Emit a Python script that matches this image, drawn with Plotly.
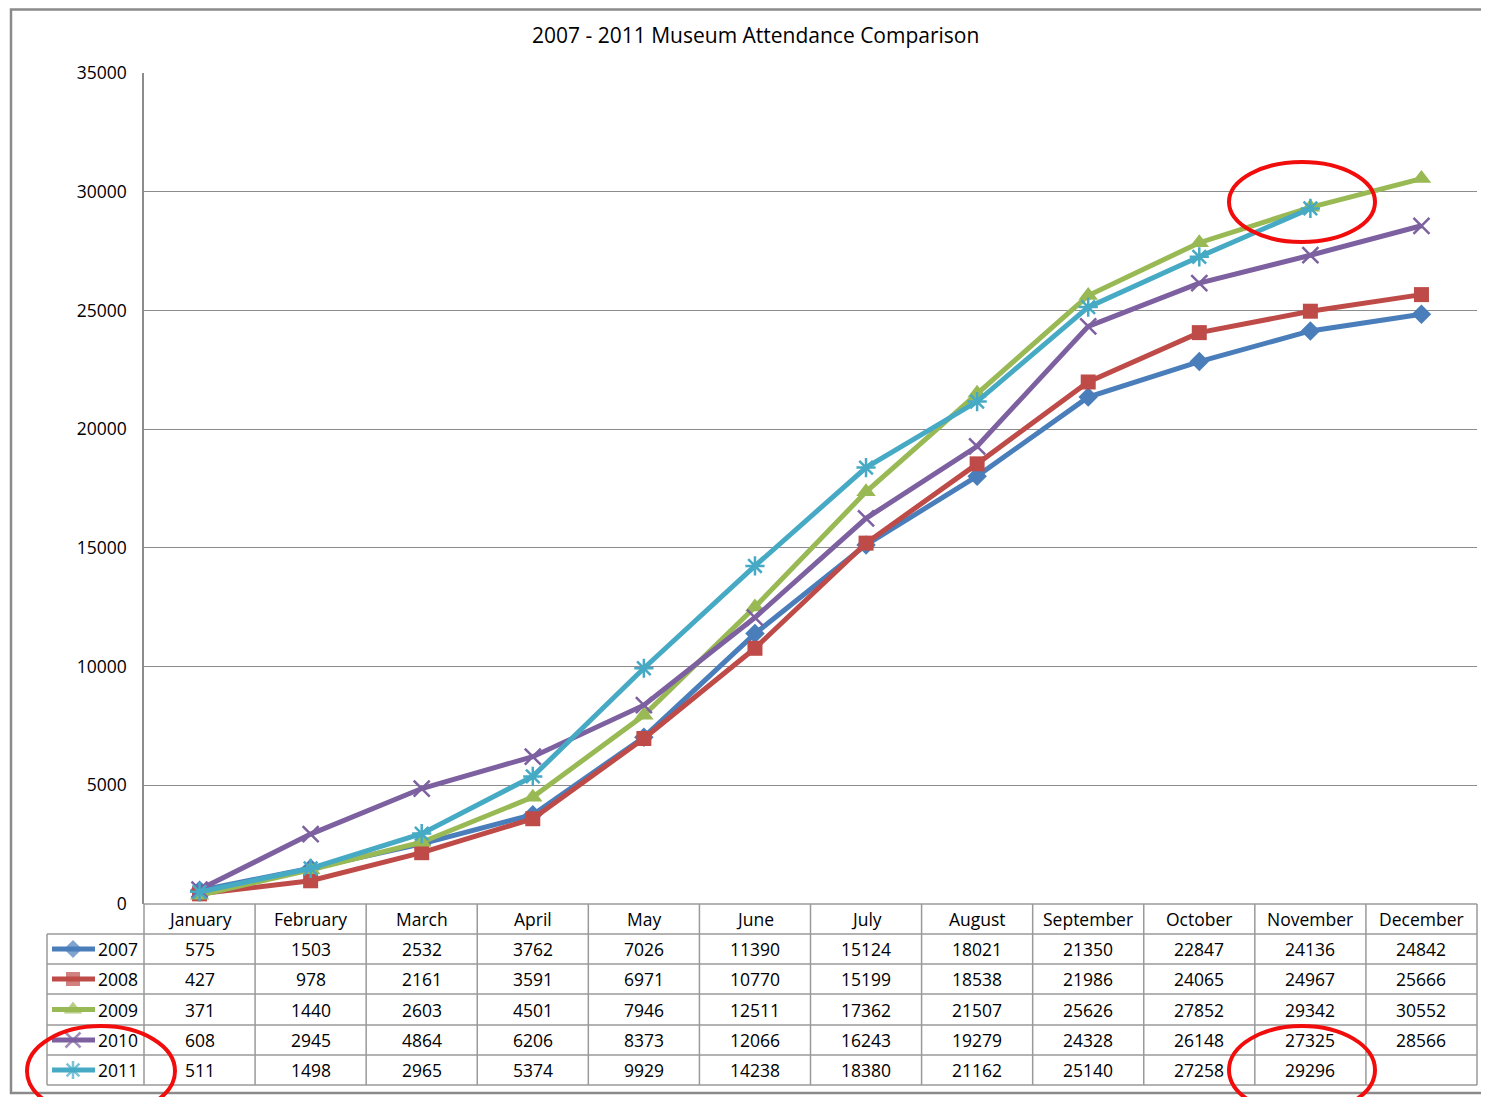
import plotly.graph_objects as go

months = ["January", "February", "March", "April", "May", "June", "July",
          "August", "September", "October", "November", "December"]
years = ["2007", "2008", "2009", "2010", "2011"]
v2007 = [575, 1503, 2532, 3762, 7026, 11390, 15124, 18021, 21350, 22847, 24136, 24842]
v2008 = [427, 978, 2161, 3591, 6971, 10770, 15199, 18538, 21986, 24065, 24967, 25666]
v2009 = [371, 1440, 2603, 4501, 7946, 12511, 17362, 21507, 25626, 27852, 29342, 30552]
v2010 = [608, 2945, 4864, 6206, 8373, 12066, 16243, 19279, 24328, 26148, 27325, 28566]
v2011 = [511, 1498, 2965, 5374, 9929, 14238, 18380, 21162, 25140, 27258, 29296, None]
series = [v2007, v2008, v2009, v2010, v2011]
title = "2007 - 2011 Museum Attendance Comparison"
y_ticks = [0, 5000, 10000, 15000, 20000, 25000, 30000, 35000]

colors = ["#4A7EBB", "#BE4B48", "#98B954", "#7D60A0", "#46AAC5"]
symbols = ["diamond", "square", "triangle-up", "x-thin-open", "asterisk-open"]
msizes = [15, 15, 17, 16, 16]
mlw = [0, 0, 0, 2.5, 2.5]

# page offset (browser body margin) -> work in reference pixel units
OFF = 8
W, H = 1489 - OFF, 1097 - OFF
L, R, T, B = 144, 1477, 73, 904
FONT = "Open Sans"


def dom_x(p):
    return (p - OFF) / W


def dom_y(p):
    return 1 - (p - OFF) / H


fig = go.Figure()
xs = list(range(len(months)))
for yr, vals, c, s, ms, lw in zip(years, series, colors, symbols, msizes, mlw):
    fig.add_trace(go.Scatter(
        x=xs, y=vals, mode="lines+markers", name=yr,
        line=dict(color=c, width=5),
        marker=dict(symbol=s, size=ms, color=c, line=dict(color=c, width=lw)),
        showlegend=False, cliponaxis=False,
    ))

shapes = []
annotations = []
P = dict(xref="x2", yref="y2")

# outer chart border
shapes.append(dict(type="rect", x0=11, x1=1500, y0=9.5, y1=1093,
                   line=dict(color="#8A8A8A", width=2.5), layer="below", **P))

# data table
rows = [904, 934, 964, 994, 1025, 1055, 1085]
gridc = "#9A9A9A"
for i, r in enumerate(rows):
    x0 = L if i == 0 else 47
    shapes.append(dict(type="line", x0=x0, x1=R, y0=r, y1=r,
                       line=dict(color=gridc, width=1.5), **P))
colw = (R - L) / len(months)
for k in range(len(months) + 1):
    xp = L + k * colw
    shapes.append(dict(type="line", x0=xp, x1=xp, y0=rows[0], y1=rows[-1],
                       line=dict(color=gridc, width=1.5), **P))
shapes.append(dict(type="line", x0=47, x1=47, y0=rows[1], y1=rows[-1],
                   line=dict(color=gridc, width=1.5), **P))

tf = dict(family=FONT, size=17.5, color="#000")
for j, m in enumerate(months):
    annotations.append(dict(x=L + (j + 0.5) * colw, y=(rows[0] + rows[1]) / 2, text=m,
                            showarrow=False, xanchor="center", yanchor="middle",
                            font=tf, **P))
for i, (yr, vals) in enumerate(zip(years, series)):
    ymid = (rows[i + 1] + rows[i + 2]) / 2
    for j, v in enumerate(vals):
        if v is None:
            continue
        annotations.append(dict(x=L + (j + 0.5) * colw, y=ymid, text=str(v),
                                showarrow=False, xanchor="center", yanchor="middle",
                                font=tf, **P))
    annotations.append(dict(x=140, y=ymid, text=yr, showarrow=False,
                            xanchor="right", yanchor="middle", font=tf, **P))
    shapes.append(dict(type="line", x0=52, x1=95, y0=ymid, y1=ymid,
                       line=dict(color=colors[i], width=5), **P))

# legend key markers in table
fig.add_trace(go.Scatter(
    x=[73] * len(years),
    y=[(rows[i + 1] + rows[i + 2]) / 2 for i in range(len(years))],
    xaxis="x2", yaxis="y2", mode="markers", showlegend=False,
    marker=dict(symbol=symbols, size=[m - 1 for m in msizes], color=colors,
                line=dict(color=colors, width=[0, 0, 0, 2.5, 2.5])),
    hoverinfo="skip",
))

# red ellipses
red = "#F20D0D"
for (x0, y0, x1, y1) in [(1229, 162, 1375, 242), (27, 1026, 175, 1116), (1229, 1026, 1375, 1114)]:
    shapes.append(dict(type="circle", x0=x0, x1=x1, y0=y0, y1=y1,
                       line=dict(color=red, width=4), **P))

annotations.append(dict(x=755, y=35, text=title, showarrow=False, xanchor="center",
                        yanchor="middle", font=dict(family=FONT, size=21, color="#000"), **P))

fig.update_layout(
    width=W, height=H,
    margin=dict(l=0, r=0, t=0, b=0, pad=0, autoexpand=False),
    paper_bgcolor="white", plot_bgcolor="rgba(0,0,0,0)",
    xaxis=dict(domain=[dom_x(L), dom_x(R)], range=[-0.5, len(months) - 0.5],
               showticklabels=False, showgrid=False, zeroline=False, showline=False,
               ticks="", anchor="y", automargin=False),
    yaxis=dict(domain=[dom_y(B), dom_y(T)], range=[0, 35000], tickvals=y_ticks,
               ticktext=[str(t) for t in y_ticks], anchor="x", automargin=False,
               showgrid=True, gridcolor="#8C8C8C", gridwidth=1.2,
               zeroline=False, showline=True, linecolor="#8C8C8C", linewidth=1.5,
               ticks="", ticklabelstandoff=12,
               tickfont=dict(family=FONT, size=17.5, color="#000")),
    xaxis2=dict(domain=[0, 1], range=[OFF, OFF + W], visible=False, anchor="y2",
                automargin=False),
    yaxis2=dict(domain=[0, 1], range=[OFF + H, OFF], visible=False, anchor="x2",
                automargin=False),
    shapes=shapes, annotations=annotations,
)

fig.write_html("out.html")
